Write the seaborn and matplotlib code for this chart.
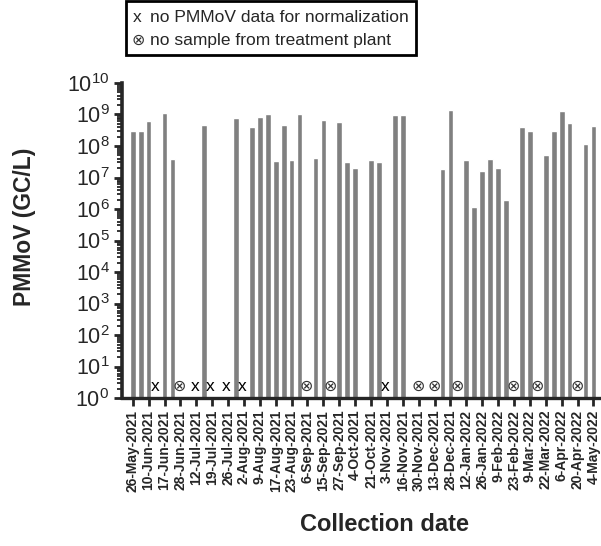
import matplotlib
matplotlib.use("Agg")
import matplotlib.pyplot as plt
import numpy as np
import pandas as pd
import seaborn as sns
from matplotlib.patches import Rectangle
from matplotlib.ticker import LogLocator, NullFormatter

# collection date labels (one tick per two sample slots)
date_labels = [
    "26-May-2021", "10-Jun-2021", "17-Jun-2021", "28-Jun-2021", "12-Jul-2021",
    "19-Jul-2021", "26-Jul-2021", "2-Aug-2021", "9-Aug-2021", "17-Aug-2021",
    "23-Aug-2021", "6-Sep-2021", "15-Sep-2021", "27-Sep-2021", "4-Oct-2021",
    "21-Oct-2021", "3-Nov-2021", "16-Nov-2021", "30-Nov-2021", "13-Dec-2021",
    "28-Dec-2021", "12-Jan-2022", "26-Jan-2022", "9-Feb-2022", "23-Feb-2022",
    "9-Mar-2022", "22-Mar-2022", "6-Apr-2022", "20-Apr-2022", "4-May-2022",
]

# PMMoV (GC/L) per sample slot, None = no bar
pmmov = [
    3.1e8, 3.1e8, 6.2e8, None, 1.15e9, 3.9e7, None, None, None, 4.7e8,
    None, None, None, 7.9e8, None, 4.1e8, 8.3e8, 1.0e9, 3.4e7, 4.7e8,
    3.7e7, 1.0e9, None, 4.2e7, 6.9e8, None, 5.8e8, 3.0e7, 2.0e7, None,
    3.6e7, 3.1e7, None, 9.3e8, 9.3e8, None, None, None, None, 1.8e7,
    1.38e9, None, 3.6e7, 1.2e6, 1.6e7, 3.8e7, 2.0e7, 1.9e6, None, 3.9e8,
    3.0e8, None, 5.0e7, 3.1e8, 1.26e9, 5.5e8, None, 1.15e8, 4.4e8,
]

# slots flagged in the chart
no_pmmov_slots = [3, 8, 10, 12, 14, 32]
no_sample_slots = [6, 22, 25, 36, 38, 41, 48, 51, 56]

sns.set_style("white")
plt.rcParams["font.family"] = ["Liberation Sans", "DejaVu Sans"]
plt.rcParams["mathtext.fontset"] = "custom"
plt.rcParams["mathtext.rm"] = "Liberation Sans:bold"
plt.rcParams["mathtext.bf"] = "Liberation Sans:bold"

n_slots = len(pmmov)
df = pd.DataFrame({"slot": np.arange(n_slots), "value": pmmov})

fig = plt.figure(figsize=(6.01, 5.46), dpi=100)
ax = fig.add_axes([0.203, 0.271, 0.795, 0.577])

sns.barplot(data=df, x="slot", y="value", order=list(range(n_slots)),
            color="#808080", saturation=1, width=0.72, ax=ax)
ax.set_yscale("log")
ax.set_ylim(1, 1e10)
ax.set_xlim(-1.35, 58.8)

# markers for missing data
for s in no_pmmov_slots:
    ax.text(s - 0.2, 2.3, "x", ha="center", va="center", fontsize=12.5, color="black")
for s in no_sample_slots:
    ax.text(s - 0.1, 2.4, "\u2297", ha="center", va="center", fontsize=11.5,
            color="#333333", family=["DejaVu Sans"])

# axes styling (Prism-like)
sns.despine(ax=ax)
ax.spines["left"].set_linewidth(2.6)
ax.spines["bottom"].set_linewidth(2.4)

ax.yaxis.set_major_locator(LogLocator(base=10, numticks=20))
ax.yaxis.set_minor_locator(LogLocator(base=10, subs=np.arange(2, 10), numticks=20))
ax.yaxis.set_minor_formatter(NullFormatter())
ax.tick_params(axis="y", which="major", left=True, length=6, width=2,
               labelsize=15.5, pad=3)
ax.tick_params(axis="y", which="minor", left=True, length=3.5, width=1.3)

ax.set_xticks(np.arange(0, n_slots, 2))
ax.set_xticklabels(date_labels, rotation=90, fontweight="bold", fontsize=10)
ax.tick_params(axis="x", which="major", bottom=True, length=5.5, width=2, pad=3)

ax.set_ylabel("PMMoV (GC/L)", fontsize=16.5, fontweight="bold")
ax.yaxis.set_label_coords(-0.18, 0.543)
ax.set_xlabel("Collection date", fontsize=17, fontweight="bold")
ax.xaxis.set_label_coords(0.55, -0.365)

# key box at the top
fig.patches.append(Rectangle((126 / 601, 1 - 55 / 546), 290 / 601, 54 / 546,
                             transform=fig.transFigure, fill=False,
                             edgecolor="black", linewidth=2))
fig.text(133 / 601, 1 - 17 / 546, "x", fontsize=12.5, va="center")
fig.text(150 / 601, 1 - 17 / 546, "no PMMoV data for normalization",
         fontsize=12.5, va="center")
fig.text(132 / 601, 1 - 40 / 546, "\u2297", fontsize=11.5, va="center",
         family=["DejaVu Sans"], color="#333333")
fig.text(150 / 601, 1 - 40 / 546, "no sample from treatment plant",
         fontsize=12.5, va="center")

fig.savefig("out.png", dpi=100)
